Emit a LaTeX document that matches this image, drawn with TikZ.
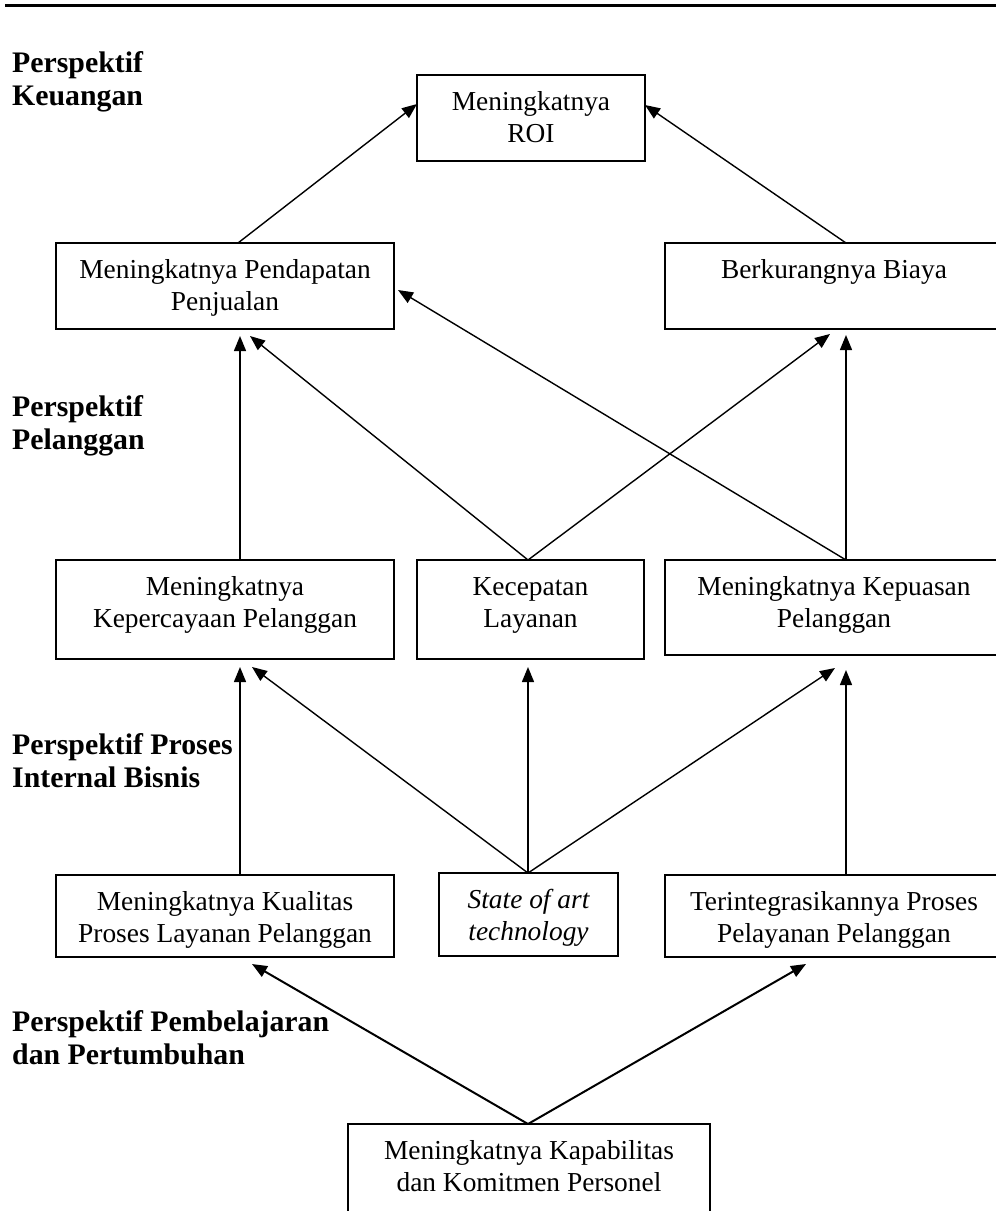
\documentclass[tikz,border=0pt]{standalone}
\usepackage{fontspec}
\setmainfont{Liberation Serif}
\usetikzlibrary{arrows.meta,calc}
\begin{document}
\begin{tikzpicture}[x=1pt,y=-1pt,
  frame/.style={draw, line width=1.7pt, inner sep=0pt, outer sep=0pt, anchor=north west},
  txt/.style={anchor=base, inner sep=0pt, font=\fontsize{27.4}{32.5}\selectfont},
  head/.style={anchor=base west, inner sep=0pt, font=\fontsize{29.8}{33.5}\selectfont\bfseries},
  conn/.style={line width=1.4pt, -{Triangle[length=15pt,width=12pt]}},
  connbold/.style={conn, line width=2pt}]
\useasboundingbox (0,0) rectangle (996,1211);
\clip (0,0) rectangle (996,1211);

% header rule
\draw[line width=3pt] (5,5.5) -- (996,5.5);

% perspective headings
\node[head] (hKeu) at (12,72) {\begin{tabular}[t]{@{}l@{}}Perspektif\\Keuangan\end{tabular}};
\node[head] (hPel) at (12,416) {\begin{tabular}[t]{@{}l@{}}Perspektif\\Pelanggan\end{tabular}};
\node[head] (hPro) at (12,754) {\begin{tabular}[t]{@{}l@{}}Perspektif Proses\\Internal Bisnis\end{tabular}};
\node[head] (hPem) at (12,1031) {\begin{tabular}[t]{@{}l@{}}Perspektif Pembelajaran\\dan Pertumbuhan\end{tabular}};

% frames
\node[frame, minimum width=228pt, minimum height=86pt] (roi)   at (417,75)  {};
\node[frame, minimum width=338pt, minimum height=86pt] (pend)  at (56,243)  {};
\node[frame, minimum width=338pt, minimum height=86pt] (biaya) at (665,243) {};
\node[frame, minimum width=338pt, minimum height=99pt] (perc)  at (56,560)  {};
\node[frame, minimum width=227pt, minimum height=99pt] (kcpt)  at (417,560) {};
\node[frame, minimum width=338pt, minimum height=95pt] (puas)  at (665,560) {};
\node[frame, minimum width=338pt, minimum height=82pt] (kual)  at (56,875)  {};
\node[frame, minimum width=179pt, minimum height=83pt] (soat)  at (439,873) {};
\node[frame, minimum width=338pt, minimum height=82pt] (integ) at (665,875) {};
\node[frame, minimum width=362pt, minimum height=110pt] (kapab) at (348,1124) {};

% texts
\node[txt] (roiT)   at ($(roi.north)+(0,35)$)   {\begin{tabular}[t]{@{}c@{}}Meningkatnya\\ROI\end{tabular}};
\node[txt] (pendT)  at ($(pend.north)+(0,35)$)  {\begin{tabular}[t]{@{}c@{}}Meningkatnya Pendapatan\\Penjualan\end{tabular}};
\node[txt] (biayaT) at ($(biaya.north)+(0,35)$) {Berkurangnya Biaya};
\node[txt] (percT)  at ($(perc.north)+(0,35)$)  {\begin{tabular}[t]{@{}c@{}}Meningkatnya\\Kepercayaan Pelanggan\end{tabular}};
\node[txt] (kcptT)  at ($(kcpt.north)+(0,35)$)  {\begin{tabular}[t]{@{}c@{}}Kecepatan\\Layanan\end{tabular}};
\node[txt] (puasT)  at ($(puas.north)+(0,35)$)  {\begin{tabular}[t]{@{}c@{}}Meningkatnya Kepuasan\\Pelanggan\end{tabular}};
\node[txt] (kualT)  at ($(kual.north)+(0,35)$)  {\begin{tabular}[t]{@{}c@{}}Meningkatnya Kualitas\\Proses Layanan Pelanggan\end{tabular}};
\node[txt] (soatT)  at ($(soat.north)+(0,35)$)  {\itshape\begin{tabular}[t]{@{}c@{}}State of art\\technology\end{tabular}};
\node[txt] (integT) at ($(integ.north)+(0,35)$) {\begin{tabular}[t]{@{}c@{}}Terintegrasikannya Proses\\Pelayanan Pelanggan\end{tabular}};
\node[txt] (kapabT) at ($(kapab.north)+(0,35)$) {\begin{tabular}[t]{@{}c@{}}Meningkatnya Kapabilitas\\dan Komitmen Personel\end{tabular}};

% links: financial
\draw[conn] ($(pend.north west)+(182,0)$) -- ($(roi.north west)+(0,29)$);
\draw[conn] ($(biaya.north west)+(181,0)$) -- ($(roi.north east)+(0,30)$);
% links: customer
\draw[conn] ($(perc.north west)+(184,0)$) -- ($(pend.south west)+(184,7)$);
\draw[conn] ($(kcpt.north west)+(111,0)$) -- ($(pend.south west)+(194,7)$);
\draw[conn] ($(kcpt.north west)+(111,0)$) -- ($(biaya.south west)+(165,5)$);
\draw[conn] ($(puas.north west)+(181,0)$) -- ($(pend.south east)+(4,-39)$);
\draw[conn] ($(puas.north west)+(181,0)$) -- ($(biaya.south west)+(181,6)$);
% links: internal process
\draw[conn] ($(kual.north west)+(184,0)$) -- ($(perc.south west)+(184,8)$);
\draw[conn] ($(soat.north west)+(89,0)$) -- ($(perc.south west)+(196,8)$);
\draw[conn] ($(soat.north west)+(89,0)$) -- ($(kcpt.south west)+(111,8)$);
\draw[conn] ($(soat.north west)+(89,0)$) -- ($(puas.south west)+(170,13)$);
\draw[conn] ($(integ.north west)+(181,0)$) -- ($(puas.south west)+(181,15)$);
% links: learning and growth
\draw[connbold] ($(kapab.north west)+(180,0)$) -- ($(kual.south west)+(196,7)$);
\draw[connbold] ($(kapab.north west)+(180,0)$) -- ($(integ.south west)+(141,7)$);
\end{tikzpicture}
\end{document}
